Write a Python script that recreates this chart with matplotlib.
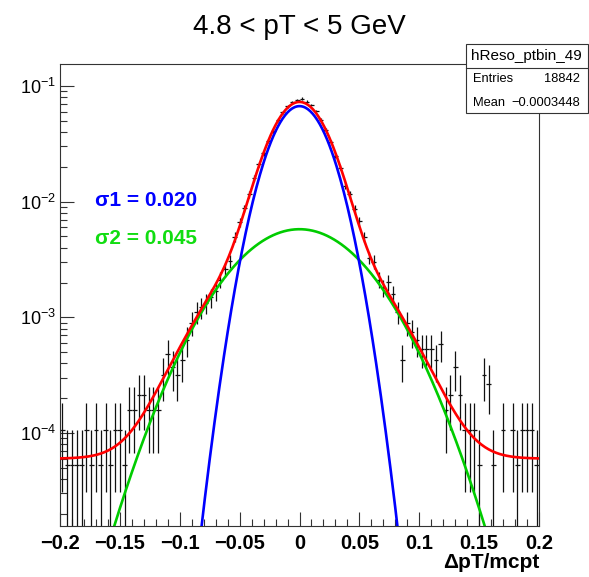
import numpy as np
import matplotlib
matplotlib.use('Agg')
import matplotlib.pyplot as plt
from matplotlib.patches import Rectangle
from matplotlib.lines import Line2D
from matplotlib.ticker import MultipleLocator, LogLocator, NullFormatter, FuncFormatter

plt.rcParams['font.family'] = ['Liberation Sans', 'DejaVu Sans']
plt.rcParams['mathtext.fontset'] = 'custom'
plt.rcParams['mathtext.rm'] = 'Liberation Sans'
plt.rcParams['mathtext.it'] = 'Liberation Sans:italic'

# histogram hReso_ptbin_49, 100 bins in [-0.2, 0.2], counts per bin
hist_name = 'hReso_ptbin_49'
entries = 18842
mean = -0.0003448
x_lo, x_hi = -0.2, 0.2
counts = [2, 1, 1, 1, 1, 2, 1, 2, 1, 2, 1, 2, 2, 1,
          3, 3, 4, 4, 3, 3, 3, 6,
          9, 7, 6, 8, 12, 17,
          21, 23, 25, 28, 32, 40, 49, 58, 94, 125, 165, 219,
          301, 398, 492, 633, 772, 959, 1120, 1262, 1370, 1428,
          1462, 1380, 1290, 1140, 960, 790, 615, 470, 370, 259,
          219, 163, 127, 94, 62, 57, 40, 34, 38, 30,
          21, 8, 17, 14, 12, 10, 10, 10, 8, 11,
          3, 4, 7, 4, 2, 2, 2, 1, 6, 5,
          1, 0, 2, 0, 2, 1, 2, 2, 2, 1]

# double gaussian fit (+ constant)
amp1, sigma1 = 0.0670, 0.020
amp2, sigma2 = 0.00578, 0.045
const = 6.0e-5

title = '4.8 < pT < 5 GeV'
xlabel = '\u0394pT/mcpt'

W, H = 589, 577


def fx(px):
    return px / W


def fy(py):
    return 1 - py / H


counts = np.array(counts, dtype=float)
nbins = len(counts)
edges = np.linspace(x_lo, x_hi, nbins + 1)
centers = 0.5 * (edges[:-1] + edges[1:])
bw = edges[1] - edges[0]
vals = counts / entries
errs = np.sqrt(counts) / entries
keep = counts > 0

fig = plt.figure(figsize=(W / 100, H / 100), dpi=100)
ax = fig.add_axes([fx(60), fy(526), fx(539) - fx(60), fy(64) - fy(526)])
ax.set_yscale('log')

lo = vals - np.maximum(vals - errs, 1e-12)
ax.errorbar(centers[keep], vals[keep], xerr=bw / 2, yerr=[lo[keep], errs[keep]],
            fmt='none', ecolor='#111111', elinewidth=0.9, capsize=0, zorder=2)

xs = np.linspace(x_lo, x_hi, 401)
g1 = amp1 * np.exp(-0.5 * (xs / sigma1) ** 2)
g2 = amp2 * np.exp(-0.5 * (xs / sigma2) ** 2)
ax.plot(xs, g2, color='#00cc00', lw=1.9, zorder=3)
ax.plot(xs, g1, color='#0000ff', lw=1.9, zorder=4)
ax.plot(xs, g1 + g2 + const, color='#ff0000', lw=1.9, zorder=5)

ax.set_xlim(x_lo, x_hi)
ax.set_ylim(1.57e-5, 0.155)

ax.xaxis.set_major_locator(MultipleLocator(0.05))
ax.xaxis.set_minor_locator(MultipleLocator(0.01))
ax.xaxis.set_major_formatter(FuncFormatter(lambda v, p: ('%g' % round(v, 3)).replace('-', '\u2212')))
ax.yaxis.set_major_locator(LogLocator(base=10))
ax.yaxis.set_minor_locator(LogLocator(base=10, subs=np.arange(2, 10)))
ax.yaxis.set_minor_formatter(NullFormatter())

ax.tick_params(which='both', direction='in', top=False, right=False, width=0.8, color='#333333')
ax.tick_params(which='major', length=10)
ax.tick_params(which='minor', length=5)
ax.tick_params(axis='x', which='major', labelsize=14.5, pad=5.5)
ax.tick_params(axis='y', which='major', labelsize=13, pad=3)
for t in ax.get_xticklabels():
    t.set_fontweight('bold')
for s in ax.spines.values():
    s.set_linewidth(0.8)
    s.set_color('#333333')

fig.text(fx(299), fy(27), title, ha='center', va='center', fontsize=20)
fig.text(fx(539), fy(563), xlabel, ha='right', va='center', fontsize=15, fontweight='bold')
fig.text(fx(95), fy(201), '\u03c31 = %.3f' % sigma1, color='#0000ff', fontsize=15,
         fontweight='bold', va='center', ha='left')
fig.text(fx(95), fy(238), '\u03c32 = %.3f' % sigma2, color='#11dd11', fontsize=15,
         fontweight='bold', va='center', ha='left')

# stats box
bx0, by0, bx1, by1 = 466, 44, 588, 113
fig.add_artist(Rectangle((fx(bx0), fy(by1)), fx(bx1) - fx(bx0), fy(by0) - fy(by1),
                         transform=fig.transFigure, facecolor='white', edgecolor='#333333',
                         lw=0.8, zorder=10))
fig.add_artist(Line2D([fx(bx0), fx(bx1)], [fy(68), fy(68)], transform=fig.transFigure,
                      color='#333333', lw=0.8, zorder=11))
fig.text(fx(526), fy(56), hist_name, ha='center', va='center', fontsize=11, zorder=12)
fig.text(fx(473), fy(79.5), 'Entries', ha='left', va='center', fontsize=9.3, zorder=12)
fig.text(fx(580), fy(79.5), '%d' % entries, ha='right', va='center', fontsize=9.3, zorder=12)
fig.text(fx(473), fy(102.5), 'Mean', ha='left', va='center', fontsize=9.3, zorder=12)
fig.text(fx(580), fy(102.5), ('%.7f' % mean).replace('-', '\u2212'), ha='right', va='center',
         fontsize=9.3, zorder=12)

fig.savefig('out.png', dpi=100, facecolor='white')
